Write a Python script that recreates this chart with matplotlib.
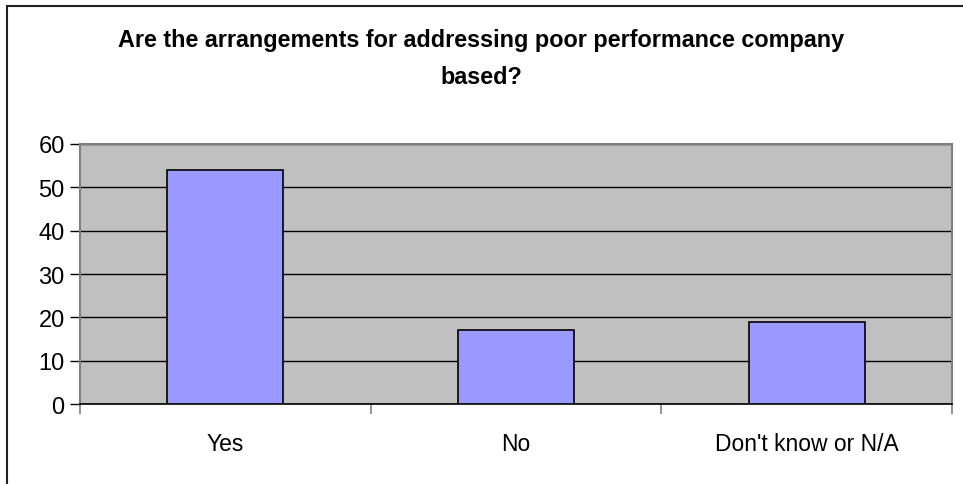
import matplotlib.pyplot as plt
from matplotlib.patches import Rectangle
import numpy as np

plt.rcParams['font.family'] = ['Liberation Sans', 'DejaVu Sans']

categories = ["Yes", "No", "Don't know or N/A"]
counts = [54, 17, 19]
y_ticks = [0, 10, 20, 30, 40, 50, 60]

title_line1 = "Are the arrangements for addressing poor performance company"
title_line2 = "based?"

fig = plt.figure(figsize=(9.63, 4.85), dpi=100)
fig.patch.set_facecolor("white")

# chart frame (only left and top edges fall inside the image)
fig.patches.append(Rectangle((7 / 963, -0.1), 1.2, 1.1 - 7 / 485,
                             transform=fig.transFigure, fill=False,
                             edgecolor="#202020", linewidth=1.5))

ax = fig.add_axes([80 / 963, 1 - 405 / 485, (952 - 80) / 963, (405 - 145) / 485])
ax.set_facecolor("#C0C0C0")

x = np.arange(len(categories))
ax.bar(x, counts, width=0.4, color="#9999FF", edgecolor="black",
       linewidth=1.2, zorder=3)

ax.set_xlim(-0.5, len(categories) - 0.5)
ax.set_ylim(0, 60)
ax.set_yticks(y_ticks)
ax.yaxis.grid(True, color="black", linewidth=1.0, zorder=1)
ax.set_axisbelow(True)

# category labels centred on bars, tick marks between categories
ax.set_xticks(np.arange(-0.5, len(categories)), minor=False)
ax.set_xticklabels([])
ax.set_xticks(x, minor=True)
ax.set_xticklabels(categories, minor=True)
ax.tick_params(axis="x", which="minor", length=0, pad=20, labelsize=16.5)
ax.tick_params(axis="x", which="major", length=7, width=1.2, color="#808080",
               direction="out")
ax.tick_params(axis="y", length=7, width=1.0, color="black", direction="out",
               labelsize=17, pad=4)

for side in ["top", "right", "left"]:
    ax.spines[side].set_color("#808080")
    ax.spines[side].set_linewidth(1.5)
ax.spines["bottom"].set_color("black")
ax.spines["bottom"].set_linewidth(1.2)

fig.text(481 / 963, 1 - 40 / 485, title_line1, ha="center", va="center",
         fontsize=16.8, fontweight="bold")
fig.text(481 / 963, 1 - 77 / 485, title_line2, ha="center", va="center",
         fontsize=16.8, fontweight="bold")

fig.savefig("out.png", dpi=100, facecolor="white")
